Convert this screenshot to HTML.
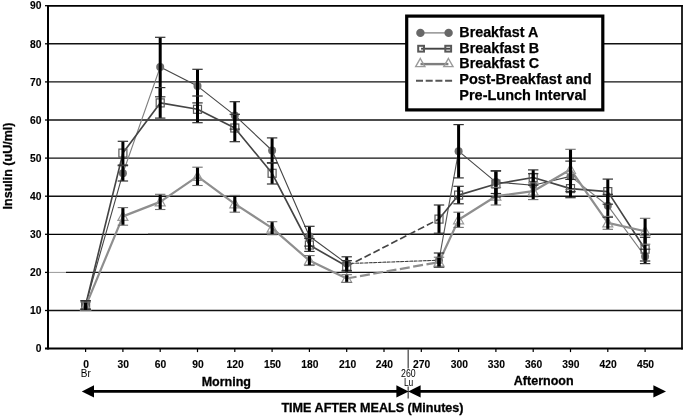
<!DOCTYPE html>
<html><head><meta charset="utf-8"><title>Insulin chart</title>
<style>html,body{margin:0;padding:0;background:#fff;}body{width:685px;height:417px;overflow:hidden;position:relative;font-family:"Liberation Sans",sans-serif;}</style>
</head><body>
<svg width="685" height="417" viewBox="0 0 685 417" style="position:absolute;left:0;top:0;will-change:transform">
<rect x="0" y="0" width="685" height="417" fill="#fff"/>
<line x1="48" x2="682" y1="310.5" y2="310.5" stroke="#111" stroke-width="1.4"/>
<line x1="48" x2="66" y1="272.4" y2="272.4" stroke="#999" stroke-width="1"/>
<line x1="66" x2="682" y1="272.4" y2="272.4" stroke="#111" stroke-width="1.4"/>
<line x1="48" x2="148" y1="234.3" y2="234.3" stroke="#000" stroke-width="1.2"/>
<line x1="148" x2="682" y1="234.3" y2="234.3" stroke="#111" stroke-width="1.4"/>
<line x1="48" x2="682" y1="196.2" y2="196.2" stroke="#111" stroke-width="1.4"/>
<line x1="48" x2="682" y1="158.1" y2="158.1" stroke="#111" stroke-width="1.4"/>
<line x1="48" x2="682" y1="120.0" y2="120.0" stroke="#111" stroke-width="1.4"/>
<line x1="48" x2="682" y1="81.9" y2="81.9" stroke="#111" stroke-width="1.4"/>
<line x1="48" x2="682" y1="43.8" y2="43.8" stroke="#111" stroke-width="1.4"/>
<polyline points="85.6,304.8 122.9,173.3" fill="none" stroke="#454545" stroke-width="1.1" stroke-linecap="round"/>
<polyline points="122.9,173.3 160.2,67.0" fill="none" stroke="#808080" stroke-width="1.1" stroke-linecap="round"/>
<polyline points="160.2,67.0 197.5,86.1" fill="none" stroke="#454545" stroke-width="1.1" stroke-linecap="round"/>
<polyline points="197.5,86.1 234.8,115.4" fill="none" stroke="#454545" stroke-width="1.1" stroke-linecap="round"/>
<polyline points="234.8,115.4 272.1,150.5" fill="none" stroke="#454545" stroke-width="1.1" stroke-linecap="round"/>
<polyline points="272.1,150.5 309.4,236.2" fill="none" stroke="#454545" stroke-width="1.1" stroke-linecap="round"/>
<polyline points="309.4,236.2 346.7,263.6" fill="none" stroke="#454545" stroke-width="1.1" stroke-linecap="round"/>
<polyline points="346.7,263.6 439.0,260.2" fill="none" stroke="#454545" stroke-width="1.1" stroke-linecap="round" stroke-dasharray="3,1.5"/>
<polyline points="439.0,260.2 458.6,151.2" fill="none" stroke="#555" stroke-width="1.1" stroke-linecap="round"/>
<polyline points="458.6,151.2 495.9,182.1" fill="none" stroke="#454545" stroke-width="1.1" stroke-linecap="round"/>
<polyline points="495.9,182.1 533.2,185.2" fill="none" stroke="#454545" stroke-width="1.1" stroke-linecap="round"/>
<polyline points="533.2,185.2 570.5,176.4" fill="none" stroke="#454545" stroke-width="1.1" stroke-linecap="round"/>
<polyline points="570.5,176.4 607.8,205.7" fill="none" stroke="#7a7a7a" stroke-width="1.1" stroke-linecap="round"/>
<polyline points="607.8,205.7 645.1,256.4" fill="none" stroke="#7a7a7a" stroke-width="1.1" stroke-linecap="round"/>
<polyline points="85.6,305.2 122.9,153.1 160.2,102.9 197.5,109.3 234.8,128.0 272.1,173.3 309.4,245.0 346.7,266.3" fill="none" stroke="#444" stroke-width="1.65" stroke-linejoin="round"/>
<polyline points="346.7,266.3 439.0,219.1" fill="none" stroke="#444" stroke-width="1.65" stroke-dasharray="7,3"/>
<polyline points="439.0,219.1 458.6,195.1 495.9,184.0 533.2,177.5 570.5,188.6 607.8,191.6 645.1,249.2" fill="none" stroke="#444" stroke-width="1.65" stroke-linejoin="round"/>
<polyline points="85.6,306.3 122.9,216.4 160.2,201.9 197.5,176.4 234.8,203.8 272.1,228.2 309.4,260.6 346.7,278.5" fill="none" stroke="#8e8e8e" stroke-width="2.2" stroke-linejoin="round"/>
<polyline points="346.7,278.5 439.0,262.1" fill="none" stroke="#8e8e8e" stroke-width="2.2" stroke-dasharray="10,3.5"/>
<polyline points="439.0,262.1 458.6,219.8 495.9,196.2 533.2,191.2 570.5,169.5 607.8,222.9 645.1,231.3" fill="none" stroke="#8e8e8e" stroke-width="2.2" stroke-linejoin="round"/>
<circle cx="85.6" cy="304.8" r="4" fill="#6e6e6e"/>
<circle cx="122.9" cy="173.3" r="4" fill="#6e6e6e"/>
<circle cx="160.2" cy="67.0" r="4" fill="#6e6e6e"/>
<circle cx="197.5" cy="86.1" r="4" fill="#6e6e6e"/>
<circle cx="234.8" cy="115.4" r="4" fill="#6e6e6e"/>
<circle cx="272.1" cy="150.5" r="4" fill="#6e6e6e"/>
<circle cx="309.4" cy="236.2" r="4" fill="#6e6e6e"/>
<circle cx="346.7" cy="263.6" r="4" fill="#6e6e6e"/>
<circle cx="439.0" cy="260.2" r="4" fill="#6e6e6e"/>
<circle cx="458.6" cy="151.2" r="4" fill="#6e6e6e"/>
<circle cx="495.9" cy="182.1" r="4" fill="#6e6e6e"/>
<circle cx="533.2" cy="185.2" r="4" fill="#6e6e6e"/>
<circle cx="570.5" cy="176.4" r="4" fill="#6e6e6e"/>
<circle cx="607.8" cy="205.7" r="4" fill="#6e6e6e"/>
<circle cx="645.1" cy="256.4" r="4" fill="#6e6e6e"/>
<rect x="81.6" y="301.2" width="8" height="8" fill="none" stroke="#5a5a5a" stroke-width="1.2"/>
<rect x="118.9" y="149.1" width="8" height="8" fill="none" stroke="#5a5a5a" stroke-width="1.2"/>
<rect x="156.2" y="98.9" width="8" height="8" fill="none" stroke="#5a5a5a" stroke-width="1.2"/>
<rect x="193.5" y="105.3" width="8" height="8" fill="none" stroke="#5a5a5a" stroke-width="1.2"/>
<rect x="230.8" y="124.0" width="8" height="8" fill="none" stroke="#5a5a5a" stroke-width="1.2"/>
<rect x="268.1" y="169.3" width="8" height="8" fill="none" stroke="#5a5a5a" stroke-width="1.2"/>
<rect x="305.4" y="241.0" width="8" height="8" fill="none" stroke="#5a5a5a" stroke-width="1.2"/>
<rect x="342.7" y="262.3" width="8" height="8" fill="none" stroke="#5a5a5a" stroke-width="1.2"/>
<rect x="435.0" y="215.1" width="8" height="8" fill="none" stroke="#5a5a5a" stroke-width="1.2"/>
<rect x="454.6" y="191.1" width="8" height="8" fill="none" stroke="#5a5a5a" stroke-width="1.2"/>
<rect x="491.9" y="180.0" width="8" height="8" fill="none" stroke="#5a5a5a" stroke-width="1.2"/>
<rect x="529.2" y="173.5" width="8" height="8" fill="none" stroke="#5a5a5a" stroke-width="1.2"/>
<rect x="566.5" y="184.6" width="8" height="8" fill="none" stroke="#5a5a5a" stroke-width="1.2"/>
<rect x="603.8" y="187.6" width="8" height="8" fill="none" stroke="#5a5a5a" stroke-width="1.2"/>
<rect x="641.1" y="245.2" width="8" height="8" fill="none" stroke="#5a5a5a" stroke-width="1.2"/>
<path d="M85.6 301.3 L90.6 310.3 L80.6 310.3 Z" fill="none" stroke="#999" stroke-width="1.2"/>
<path d="M122.9 211.4 L127.9 220.4 L117.9 220.4 Z" fill="none" stroke="#999" stroke-width="1.2"/>
<path d="M160.2 196.9 L165.2 205.9 L155.2 205.9 Z" fill="none" stroke="#999" stroke-width="1.2"/>
<path d="M197.5 171.4 L202.5 180.4 L192.5 180.4 Z" fill="none" stroke="#999" stroke-width="1.2"/>
<path d="M234.8 198.8 L239.8 207.8 L229.8 207.8 Z" fill="none" stroke="#999" stroke-width="1.2"/>
<path d="M272.1 223.2 L277.1 232.2 L267.1 232.2 Z" fill="none" stroke="#999" stroke-width="1.2"/>
<path d="M309.4 255.6 L314.4 264.6 L304.4 264.6 Z" fill="none" stroke="#999" stroke-width="1.2"/>
<path d="M346.7 273.5 L351.7 282.5 L341.7 282.5 Z" fill="none" stroke="#999" stroke-width="1.2"/>
<path d="M439.0 257.1 L444.0 266.1 L434.0 266.1 Z" fill="none" stroke="#999" stroke-width="1.2"/>
<path d="M458.6 214.8 L463.6 223.8 L453.6 223.8 Z" fill="none" stroke="#999" stroke-width="1.2"/>
<path d="M495.9 191.2 L500.9 200.2 L490.9 200.2 Z" fill="none" stroke="#999" stroke-width="1.2"/>
<path d="M533.2 186.2 L538.2 195.2 L528.2 195.2 Z" fill="none" stroke="#999" stroke-width="1.2"/>
<path d="M570.5 164.5 L575.5 173.5 L565.5 173.5 Z" fill="none" stroke="#999" stroke-width="1.2"/>
<path d="M607.8 217.9 L612.8 226.9 L602.8 226.9 Z" fill="none" stroke="#999" stroke-width="1.2"/>
<path d="M645.1 226.3 L650.1 235.3 L640.1 235.3 Z" fill="none" stroke="#999" stroke-width="1.2"/>
<line x1="85.6" x2="85.6" y1="300.6" y2="309.0" stroke="#000" stroke-width="3"/>
<line x1="80.4" x2="90.8" y1="300.6" y2="300.6" stroke="#333" stroke-width="1.2"/>
<line x1="80.4" x2="90.8" y1="309.0" y2="309.0" stroke="#333" stroke-width="1.2"/>
<line x1="122.9" x2="122.9" y1="165.7" y2="181.0" stroke="#000" stroke-width="3"/>
<line x1="117.7" x2="128.1" y1="165.7" y2="165.7" stroke="#333" stroke-width="1.2"/>
<line x1="117.7" x2="128.1" y1="181.0" y2="181.0" stroke="#333" stroke-width="1.2"/>
<line x1="160.2" x2="160.2" y1="37.3" y2="96.8" stroke="#000" stroke-width="3"/>
<line x1="155.0" x2="165.4" y1="37.3" y2="37.3" stroke="#333" stroke-width="1.2"/>
<line x1="155.0" x2="165.4" y1="96.8" y2="96.8" stroke="#333" stroke-width="1.2"/>
<line x1="197.5" x2="197.5" y1="69.3" y2="102.9" stroke="#000" stroke-width="3"/>
<line x1="192.3" x2="202.7" y1="69.3" y2="69.3" stroke="#333" stroke-width="1.2"/>
<line x1="192.3" x2="202.7" y1="102.9" y2="102.9" stroke="#333" stroke-width="1.2"/>
<line x1="234.8" x2="234.8" y1="101.7" y2="129.1" stroke="#000" stroke-width="3"/>
<line x1="229.6" x2="240.0" y1="101.7" y2="101.7" stroke="#333" stroke-width="1.2"/>
<line x1="229.6" x2="240.0" y1="129.1" y2="129.1" stroke="#333" stroke-width="1.2"/>
<line x1="272.1" x2="272.1" y1="137.9" y2="163.1" stroke="#000" stroke-width="3"/>
<line x1="266.9" x2="277.3" y1="137.9" y2="137.9" stroke="#333" stroke-width="1.2"/>
<line x1="266.9" x2="277.3" y1="163.1" y2="163.1" stroke="#333" stroke-width="1.2"/>
<line x1="309.4" x2="309.4" y1="226.3" y2="246.1" stroke="#000" stroke-width="3"/>
<line x1="304.2" x2="314.6" y1="226.3" y2="226.3" stroke="#333" stroke-width="1.2"/>
<line x1="304.2" x2="314.6" y1="246.1" y2="246.1" stroke="#333" stroke-width="1.2"/>
<line x1="346.7" x2="346.7" y1="256.8" y2="270.5" stroke="#000" stroke-width="3"/>
<line x1="341.5" x2="351.9" y1="256.8" y2="256.8" stroke="#333" stroke-width="1.2"/>
<line x1="341.5" x2="351.9" y1="270.5" y2="270.5" stroke="#333" stroke-width="1.2"/>
<line x1="439.0" x2="439.0" y1="253.0" y2="267.4" stroke="#000" stroke-width="3"/>
<line x1="433.8" x2="444.2" y1="253.0" y2="253.0" stroke="#333" stroke-width="1.2"/>
<line x1="433.8" x2="444.2" y1="267.4" y2="267.4" stroke="#333" stroke-width="1.2"/>
<line x1="458.6" x2="458.6" y1="124.6" y2="177.9" stroke="#000" stroke-width="3"/>
<line x1="453.4" x2="463.8" y1="124.6" y2="124.6" stroke="#333" stroke-width="1.2"/>
<line x1="453.4" x2="463.8" y1="177.9" y2="177.9" stroke="#333" stroke-width="1.2"/>
<line x1="495.9" x2="495.9" y1="170.7" y2="193.5" stroke="#000" stroke-width="3"/>
<line x1="490.7" x2="501.1" y1="170.7" y2="170.7" stroke="#333" stroke-width="1.2"/>
<line x1="490.7" x2="501.1" y1="193.5" y2="193.5" stroke="#333" stroke-width="1.2"/>
<line x1="533.2" x2="533.2" y1="173.7" y2="196.6" stroke="#000" stroke-width="3"/>
<line x1="528.0" x2="538.4" y1="173.7" y2="173.7" stroke="#333" stroke-width="1.2"/>
<line x1="528.0" x2="538.4" y1="196.6" y2="196.6" stroke="#333" stroke-width="1.2"/>
<line x1="570.5" x2="570.5" y1="161.1" y2="191.6" stroke="#000" stroke-width="3"/>
<line x1="565.3" x2="575.7" y1="161.1" y2="161.1" stroke="#333" stroke-width="1.2"/>
<line x1="565.3" x2="575.7" y1="191.6" y2="191.6" stroke="#333" stroke-width="1.2"/>
<line x1="607.8" x2="607.8" y1="194.3" y2="217.2" stroke="#000" stroke-width="3"/>
<line x1="602.6" x2="613.0" y1="194.3" y2="194.3" stroke="#333" stroke-width="1.2"/>
<line x1="602.6" x2="613.0" y1="217.2" y2="217.2" stroke="#333" stroke-width="1.2"/>
<line x1="645.1" x2="645.1" y1="249.2" y2="263.6" stroke="#000" stroke-width="3"/>
<line x1="639.9" x2="650.3" y1="249.2" y2="249.2" stroke="#333" stroke-width="1.2"/>
<line x1="639.9" x2="650.3" y1="263.6" y2="263.6" stroke="#333" stroke-width="1.2"/>
<line x1="85.6" x2="85.6" y1="301.0" y2="309.4" stroke="#000" stroke-width="3"/>
<line x1="80.4" x2="90.8" y1="301.0" y2="301.0" stroke="#333" stroke-width="1.2"/>
<line x1="80.4" x2="90.8" y1="309.4" y2="309.4" stroke="#333" stroke-width="1.2"/>
<line x1="122.9" x2="122.9" y1="141.3" y2="165.0" stroke="#000" stroke-width="3"/>
<line x1="117.7" x2="128.1" y1="141.3" y2="141.3" stroke="#333" stroke-width="1.2"/>
<line x1="117.7" x2="128.1" y1="165.0" y2="165.0" stroke="#333" stroke-width="1.2"/>
<line x1="160.2" x2="160.2" y1="87.6" y2="118.1" stroke="#000" stroke-width="3"/>
<line x1="155.0" x2="165.4" y1="87.6" y2="87.6" stroke="#333" stroke-width="1.2"/>
<line x1="155.0" x2="165.4" y1="118.1" y2="118.1" stroke="#333" stroke-width="1.2"/>
<line x1="197.5" x2="197.5" y1="96.0" y2="122.7" stroke="#000" stroke-width="3"/>
<line x1="192.3" x2="202.7" y1="96.0" y2="96.0" stroke="#333" stroke-width="1.2"/>
<line x1="192.3" x2="202.7" y1="122.7" y2="122.7" stroke="#333" stroke-width="1.2"/>
<line x1="234.8" x2="234.8" y1="114.3" y2="141.7" stroke="#000" stroke-width="3"/>
<line x1="229.6" x2="240.0" y1="114.3" y2="114.3" stroke="#333" stroke-width="1.2"/>
<line x1="229.6" x2="240.0" y1="141.7" y2="141.7" stroke="#333" stroke-width="1.2"/>
<line x1="272.1" x2="272.1" y1="162.7" y2="184.0" stroke="#000" stroke-width="3"/>
<line x1="266.9" x2="277.3" y1="162.7" y2="162.7" stroke="#333" stroke-width="1.2"/>
<line x1="266.9" x2="277.3" y1="184.0" y2="184.0" stroke="#333" stroke-width="1.2"/>
<line x1="309.4" x2="309.4" y1="238.5" y2="251.4" stroke="#000" stroke-width="3"/>
<line x1="304.2" x2="314.6" y1="238.5" y2="238.5" stroke="#333" stroke-width="1.2"/>
<line x1="304.2" x2="314.6" y1="251.4" y2="251.4" stroke="#333" stroke-width="1.2"/>
<line x1="346.7" x2="346.7" y1="260.6" y2="272.0" stroke="#000" stroke-width="3"/>
<line x1="341.5" x2="351.9" y1="260.6" y2="260.6" stroke="#333" stroke-width="1.2"/>
<line x1="341.5" x2="351.9" y1="272.0" y2="272.0" stroke="#333" stroke-width="1.2"/>
<line x1="439.0" x2="439.0" y1="205.0" y2="233.2" stroke="#000" stroke-width="3"/>
<line x1="433.8" x2="444.2" y1="205.0" y2="205.0" stroke="#333" stroke-width="1.2"/>
<line x1="433.8" x2="444.2" y1="233.2" y2="233.2" stroke="#333" stroke-width="1.2"/>
<line x1="458.6" x2="458.6" y1="186.3" y2="203.8" stroke="#000" stroke-width="3"/>
<line x1="453.4" x2="463.8" y1="186.3" y2="186.3" stroke="#333" stroke-width="1.2"/>
<line x1="453.4" x2="463.8" y1="203.8" y2="203.8" stroke="#333" stroke-width="1.2"/>
<line x1="495.9" x2="495.9" y1="171.1" y2="197.0" stroke="#000" stroke-width="3"/>
<line x1="490.7" x2="501.1" y1="171.1" y2="171.1" stroke="#333" stroke-width="1.2"/>
<line x1="490.7" x2="501.1" y1="197.0" y2="197.0" stroke="#333" stroke-width="1.2"/>
<line x1="533.2" x2="533.2" y1="169.9" y2="185.2" stroke="#000" stroke-width="3"/>
<line x1="528.0" x2="538.4" y1="169.9" y2="169.9" stroke="#333" stroke-width="1.2"/>
<line x1="528.0" x2="538.4" y1="185.2" y2="185.2" stroke="#333" stroke-width="1.2"/>
<line x1="570.5" x2="570.5" y1="179.4" y2="197.7" stroke="#000" stroke-width="3"/>
<line x1="565.3" x2="575.7" y1="179.4" y2="179.4" stroke="#333" stroke-width="1.2"/>
<line x1="565.3" x2="575.7" y1="197.7" y2="197.7" stroke="#333" stroke-width="1.2"/>
<line x1="607.8" x2="607.8" y1="179.1" y2="204.2" stroke="#000" stroke-width="3"/>
<line x1="602.6" x2="613.0" y1="179.1" y2="179.1" stroke="#333" stroke-width="1.2"/>
<line x1="602.6" x2="613.0" y1="204.2" y2="204.2" stroke="#333" stroke-width="1.2"/>
<line x1="645.1" x2="645.1" y1="237.3" y2="261.0" stroke="#000" stroke-width="3"/>
<line x1="639.9" x2="650.3" y1="237.3" y2="237.3" stroke="#333" stroke-width="1.2"/>
<line x1="639.9" x2="650.3" y1="261.0" y2="261.0" stroke="#333" stroke-width="1.2"/>
<line x1="85.6" x2="85.6" y1="302.1" y2="310.5" stroke="#000" stroke-width="3.1"/>
<line x1="80.4" x2="90.8" y1="302.1" y2="302.1" stroke="#707070" stroke-width="1.1"/>
<line x1="80.4" x2="90.8" y1="310.5" y2="310.5" stroke="#707070" stroke-width="1.1"/>
<line x1="122.9" x2="122.9" y1="207.6" y2="225.2" stroke="#000" stroke-width="3.1"/>
<line x1="117.7" x2="128.1" y1="207.6" y2="207.6" stroke="#707070" stroke-width="1.1"/>
<line x1="117.7" x2="128.1" y1="225.2" y2="225.2" stroke="#707070" stroke-width="1.1"/>
<line x1="160.2" x2="160.2" y1="194.3" y2="209.5" stroke="#000" stroke-width="3.1"/>
<line x1="155.0" x2="165.4" y1="194.3" y2="194.3" stroke="#707070" stroke-width="1.1"/>
<line x1="155.0" x2="165.4" y1="209.5" y2="209.5" stroke="#707070" stroke-width="1.1"/>
<line x1="197.5" x2="197.5" y1="167.2" y2="185.5" stroke="#000" stroke-width="3.1"/>
<line x1="192.3" x2="202.7" y1="167.2" y2="167.2" stroke="#707070" stroke-width="1.1"/>
<line x1="192.3" x2="202.7" y1="185.5" y2="185.5" stroke="#707070" stroke-width="1.1"/>
<line x1="234.8" x2="234.8" y1="195.4" y2="212.2" stroke="#000" stroke-width="3.1"/>
<line x1="229.6" x2="240.0" y1="195.4" y2="195.4" stroke="#707070" stroke-width="1.1"/>
<line x1="229.6" x2="240.0" y1="212.2" y2="212.2" stroke="#707070" stroke-width="1.1"/>
<line x1="272.1" x2="272.1" y1="221.7" y2="234.7" stroke="#000" stroke-width="3.1"/>
<line x1="266.9" x2="277.3" y1="221.7" y2="221.7" stroke="#707070" stroke-width="1.1"/>
<line x1="266.9" x2="277.3" y1="234.7" y2="234.7" stroke="#707070" stroke-width="1.1"/>
<line x1="309.4" x2="309.4" y1="255.6" y2="265.5" stroke="#000" stroke-width="3.1"/>
<line x1="304.2" x2="314.6" y1="255.6" y2="255.6" stroke="#707070" stroke-width="1.1"/>
<line x1="304.2" x2="314.6" y1="265.5" y2="265.5" stroke="#707070" stroke-width="1.1"/>
<line x1="346.7" x2="346.7" y1="274.7" y2="282.3" stroke="#000" stroke-width="3.1"/>
<line x1="341.5" x2="351.9" y1="274.7" y2="274.7" stroke="#707070" stroke-width="1.1"/>
<line x1="341.5" x2="351.9" y1="282.3" y2="282.3" stroke="#707070" stroke-width="1.1"/>
<line x1="439.0" x2="439.0" y1="257.2" y2="267.1" stroke="#000" stroke-width="3.1"/>
<line x1="433.8" x2="444.2" y1="257.2" y2="257.2" stroke="#707070" stroke-width="1.1"/>
<line x1="433.8" x2="444.2" y1="267.1" y2="267.1" stroke="#707070" stroke-width="1.1"/>
<line x1="458.6" x2="458.6" y1="212.2" y2="227.4" stroke="#000" stroke-width="3.1"/>
<line x1="453.4" x2="463.8" y1="212.2" y2="212.2" stroke="#707070" stroke-width="1.1"/>
<line x1="453.4" x2="463.8" y1="227.4" y2="227.4" stroke="#707070" stroke-width="1.1"/>
<line x1="495.9" x2="495.9" y1="187.4" y2="205.0" stroke="#000" stroke-width="3.1"/>
<line x1="490.7" x2="501.1" y1="187.4" y2="187.4" stroke="#707070" stroke-width="1.1"/>
<line x1="490.7" x2="501.1" y1="205.0" y2="205.0" stroke="#707070" stroke-width="1.1"/>
<line x1="533.2" x2="533.2" y1="182.9" y2="199.6" stroke="#000" stroke-width="3.1"/>
<line x1="528.0" x2="538.4" y1="182.9" y2="182.9" stroke="#707070" stroke-width="1.1"/>
<line x1="528.0" x2="538.4" y1="199.6" y2="199.6" stroke="#707070" stroke-width="1.1"/>
<line x1="570.5" x2="570.5" y1="149.3" y2="189.7" stroke="#000" stroke-width="3.1"/>
<line x1="565.3" x2="575.7" y1="149.3" y2="149.3" stroke="#707070" stroke-width="1.1"/>
<line x1="565.3" x2="575.7" y1="189.7" y2="189.7" stroke="#707070" stroke-width="1.1"/>
<line x1="607.8" x2="607.8" y1="216.4" y2="229.3" stroke="#000" stroke-width="3.1"/>
<line x1="602.6" x2="613.0" y1="216.4" y2="216.4" stroke="#707070" stroke-width="1.1"/>
<line x1="602.6" x2="613.0" y1="229.3" y2="229.3" stroke="#707070" stroke-width="1.1"/>
<line x1="645.1" x2="645.1" y1="218.3" y2="244.2" stroke="#000" stroke-width="3.1"/>
<line x1="639.9" x2="650.3" y1="218.3" y2="218.3" stroke="#707070" stroke-width="1.1"/>
<line x1="639.9" x2="650.3" y1="244.2" y2="244.2" stroke="#707070" stroke-width="1.1"/>
<line x1="47" x2="682.8" y1="5.9" y2="5.9" stroke="#000" stroke-width="1.7"/>
<line x1="682" x2="682" y1="5" y2="349.5" stroke="#000" stroke-width="1.7"/>
<line x1="48" x2="48" y1="5" y2="349.6" stroke="#000" stroke-width="2"/>
<line x1="45" x2="682.8" y1="348.6" y2="348.6" stroke="#000" stroke-width="2"/>
<line x1="45" x2="48" y1="310.5" y2="310.5" stroke="#000" stroke-width="1.3"/>
<line x1="45" x2="48" y1="272.4" y2="272.4" stroke="#000" stroke-width="1.3"/>
<line x1="45" x2="48" y1="234.3" y2="234.3" stroke="#000" stroke-width="1.3"/>
<line x1="45" x2="48" y1="196.2" y2="196.2" stroke="#000" stroke-width="1.3"/>
<line x1="45" x2="48" y1="158.1" y2="158.1" stroke="#000" stroke-width="1.3"/>
<line x1="45" x2="48" y1="120.0" y2="120.0" stroke="#000" stroke-width="1.3"/>
<line x1="45" x2="48" y1="81.9" y2="81.9" stroke="#000" stroke-width="1.3"/>
<line x1="45" x2="48" y1="43.8" y2="43.8" stroke="#000" stroke-width="1.3"/>
<line x1="45" x2="48" y1="5.7" y2="5.7" stroke="#000" stroke-width="1.3"/>
<line x1="85.6" x2="85.6" y1="348.3" y2="352.1" stroke="#000" stroke-width="1.2"/>
<line x1="122.9" x2="122.9" y1="348.3" y2="352.1" stroke="#000" stroke-width="1.2"/>
<line x1="160.2" x2="160.2" y1="348.3" y2="352.1" stroke="#000" stroke-width="1.2"/>
<line x1="197.5" x2="197.5" y1="348.3" y2="352.1" stroke="#000" stroke-width="1.2"/>
<line x1="234.8" x2="234.8" y1="348.3" y2="352.1" stroke="#000" stroke-width="1.2"/>
<line x1="272.1" x2="272.1" y1="348.3" y2="352.1" stroke="#000" stroke-width="1.2"/>
<line x1="309.4" x2="309.4" y1="348.3" y2="352.1" stroke="#000" stroke-width="1.2"/>
<line x1="346.7" x2="346.7" y1="348.3" y2="352.1" stroke="#000" stroke-width="1.2"/>
<line x1="384.0" x2="384.0" y1="348.3" y2="352.1" stroke="#000" stroke-width="1.2"/>
<line x1="421.3" x2="421.3" y1="348.3" y2="352.1" stroke="#000" stroke-width="1.2"/>
<line x1="458.6" x2="458.6" y1="348.3" y2="352.1" stroke="#000" stroke-width="1.2"/>
<line x1="495.9" x2="495.9" y1="348.3" y2="352.1" stroke="#000" stroke-width="1.2"/>
<line x1="533.2" x2="533.2" y1="348.3" y2="352.1" stroke="#000" stroke-width="1.2"/>
<line x1="570.5" x2="570.5" y1="348.3" y2="352.1" stroke="#000" stroke-width="1.2"/>
<line x1="607.8" x2="607.8" y1="348.3" y2="352.1" stroke="#000" stroke-width="1.2"/>
<line x1="645.1" x2="645.1" y1="348.3" y2="352.1" stroke="#000" stroke-width="1.2"/>
<line x1="408.2" x2="408.2" y1="349.3" y2="368.4" stroke="#5a5a5a" stroke-width="1.4"/>
<line x1="408.2" x2="408.2" y1="386.6" y2="398.6" stroke="#5a5a5a" stroke-width="1.4"/>
<g font-family="Liberation Sans, sans-serif" font-weight="bold" fill="#000" stroke="#000" stroke-width="0.3">
<text x="41.4" y="352.3" font-size="10.3" text-anchor="end" stroke-width="0.12">0</text>
<text x="41.4" y="314.2" font-size="10.3" text-anchor="end" stroke-width="0.12">10</text>
<text x="41.4" y="276.1" font-size="10.3" text-anchor="end" stroke-width="0.12">20</text>
<text x="41.4" y="238.0" font-size="10.3" text-anchor="end" stroke-width="0.12">30</text>
<text x="41.4" y="199.9" font-size="10.3" text-anchor="end" stroke-width="0.12">40</text>
<text x="41.4" y="161.8" font-size="10.3" text-anchor="end" stroke-width="0.12">50</text>
<text x="41.4" y="123.7" font-size="10.3" text-anchor="end" stroke-width="0.12">60</text>
<text x="41.4" y="85.6" font-size="10.3" text-anchor="end" stroke-width="0.12">70</text>
<text x="41.4" y="47.5" font-size="10.3" text-anchor="end" stroke-width="0.12">80</text>
<text x="41.4" y="9.4" font-size="10.3" text-anchor="end" stroke-width="0.12">90</text>
<text x="86.0" y="367.7" font-size="10.3" text-anchor="middle" stroke-width="0.12">0</text>
<text x="123.3" y="367.7" font-size="10.3" text-anchor="middle" stroke-width="0.12">30</text>
<text x="160.6" y="367.7" font-size="10.3" text-anchor="middle" stroke-width="0.12">60</text>
<text x="197.9" y="367.7" font-size="10.3" text-anchor="middle" stroke-width="0.12">90</text>
<text x="235.2" y="367.7" font-size="10.3" text-anchor="middle" stroke-width="0.12">120</text>
<text x="272.5" y="367.7" font-size="10.3" text-anchor="middle" stroke-width="0.12">150</text>
<text x="309.8" y="367.7" font-size="10.3" text-anchor="middle" stroke-width="0.12">180</text>
<text x="347.7" y="367.7" font-size="10.3" text-anchor="middle" stroke-width="0.12">210</text>
<text x="384.4" y="367.7" font-size="10.3" text-anchor="middle" stroke-width="0.12">240</text>
<text x="421.7" y="367.7" font-size="10.3" text-anchor="middle" stroke-width="0.12">270</text>
<text x="459.3" y="367.7" font-size="10.3" text-anchor="middle" stroke-width="0.12">300</text>
<text x="496.3" y="367.7" font-size="10.3" text-anchor="middle" stroke-width="0.12">330</text>
<text x="533.6" y="367.7" font-size="10.3" text-anchor="middle" stroke-width="0.12">360</text>
<text x="570.9" y="367.7" font-size="10.3" text-anchor="middle" stroke-width="0.12">390</text>
<text x="608.2" y="367.7" font-size="10.3" text-anchor="middle" stroke-width="0.12">420</text>
<text x="645.5" y="367.7" font-size="10.3" text-anchor="middle" stroke-width="0.12">450</text>
<text x="226.3" y="385.7" font-size="12.5" text-anchor="middle">Morning</text>
<text x="543.7" y="385.3" font-size="12.5" text-anchor="middle">Afternoon</text>
<text x="372.5" y="412.1" font-size="12.6" text-anchor="middle">TIME AFTER MEALS (Minutes)</text>
<text transform="translate(12.4,166) rotate(-90)" font-size="12.5" text-anchor="middle">Insulin (uU/ml)</text>
</g>
<g font-family="Liberation Sans, sans-serif" fill="#000" font-size="10.2" text-anchor="middle">
<text x="85.8" y="377" font-size="10">Br</text>
<text x="408.4" y="376.6" textLength="14.6" lengthAdjust="spacingAndGlyphs">260</text>
<text x="408.6" y="386.3" textLength="9.4" lengthAdjust="spacingAndGlyphs">Lu</text>
</g>
<line x1="92" x2="398" y1="391.4" y2="391.4" stroke="#000" stroke-width="2.9"/>
<line x1="419" x2="655" y1="391.4" y2="391.4" stroke="#000" stroke-width="2.9"/>
<path d="M81.8 391.4 L94.0 385.2 L94.0 397.6 Z" fill="#000"/>
<path d="M408.6 391.4 L396.4 385.2 L396.4 397.6 Z" fill="#000"/>
<path d="M408.2 391.4 L420.6 385.2 L420.6 397.6 Z" fill="#000"/>
<path d="M666.0 391.4 L653.4 385.2 L653.4 397.6 Z" fill="#000"/>
<rect x="406.7" y="16.1" width="196.1" height="93.8" fill="#fff" stroke="#000" stroke-width="3.2"/>
<line x1="420.4" x2="448.6" y1="32.9" y2="32.9" stroke="#777" stroke-width="1.2"/>
<circle cx="420.4" cy="32.9" r="4.2" fill="#686868"/><circle cx="448.6" cy="32.9" r="4.2" fill="#686868"/>
<line x1="421.1" x2="450.2" y1="48.7" y2="48.7" stroke="#444" stroke-width="1.9"/>
<rect x="418.2" y="45.8" width="5.8" height="5.8" fill="none" stroke="#585858" stroke-width="2"/>
<rect x="445.3" y="45.8" width="5.8" height="5.8" fill="none" stroke="#585858" stroke-width="2"/>
<line x1="420.5" x2="448.4" y1="64.1" y2="64.1" stroke="#7e7e7e" stroke-width="2.4"/>
<path d="M420.3 58.5 L424.9 66.6 L415.7 66.6 Z" fill="none" stroke="#9a9a9a" stroke-width="1.4"/>
<path d="M448.4 58.5 L453.0 66.6 L443.8 66.6 Z" fill="none" stroke="#9a9a9a" stroke-width="1.4"/>
<line x1="416" x2="453" y1="80.8" y2="80.8" stroke="#555" stroke-width="2" stroke-dasharray="7,2.7"/>
<g font-family="Liberation Sans, sans-serif" font-weight="bold" fill="#000" stroke="#000" stroke-width="0.25" font-size="14.4">
<text x="459.3" y="37.1" textLength="79.0" lengthAdjust="spacingAndGlyphs">Breakfast A</text>
<text x="459.3" y="52.6" textLength="79.8" lengthAdjust="spacingAndGlyphs">Breakfast B</text>
<text x="459.3" y="68.3" textLength="79.8" lengthAdjust="spacingAndGlyphs">Breakfast C</text>
<text x="459.3" y="84.0" textLength="132.3" lengthAdjust="spacingAndGlyphs">Post-Breakfast and</text>
<text x="459.3" y="99.7" textLength="127.2" lengthAdjust="spacingAndGlyphs">Pre-Lunch Interval</text>
</g>
</svg>
</body></html>
